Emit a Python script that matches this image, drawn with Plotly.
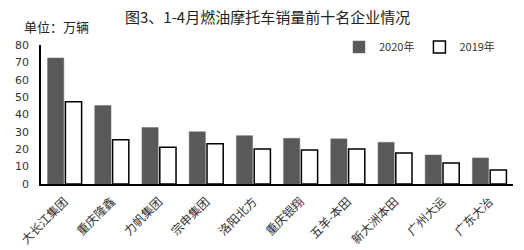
import plotly.graph_objects as go

categories = ["大长江集团", "重庆隆鑫", "力帆集团", "宗申集团", "洛阳北方",
              "重庆银翔", "五羊-本田", "新大洲本田", "广州大运", "广东大冶"]
sales_2020 = [72.5, 45.2, 32.5, 30.1, 27.8, 26.3, 26.0, 24.0, 16.7, 15.0]
sales_2019 = [47.3, 25.4, 21.2, 23.1, 20.2, 19.6, 20.2, 17.9, 12.1, 8.1]
y_ticks = [0, 10, 20, 30, 40, 50, 60, 70, 80]

FONT = "Noto Sans CJK SC, DejaVu Sans, sans-serif"

L, R, T, B = 41, 11, 45, 66
W, H = 524, 250
PW, PH = W - L - R, H - T - B

fig = go.Figure()
fig.add_trace(go.Bar(
    x=categories, y=sales_2020, name="2020年",
    marker=dict(color="#595959", line=dict(color="#6a6a6a", width=0.5)),
))
fig.add_trace(go.Bar(
    x=categories, y=sales_2019, name="2019年",
    marker=dict(color="#ffffff", line=dict(color="#000000", width=1.5)),
))

fig.update_layout(
    width=W, height=H,
    margin=dict(l=L, r=R, t=T, b=B, autoexpand=False),
    paper_bgcolor="white", plot_bgcolor="white",
    barmode="group", bargap=0.245, bargroupgap=0.09,
    font=dict(family=FONT, size=11, color="#404040"),
    title=dict(text="图3、1-4月燃油摩托车销量前十名企业情况",
               x=125/W, xanchor="left", y=1 - 18/H, yanchor="middle",
               font=dict(size=15, color="#222222", family=FONT)),
    showlegend=True,
    legend=dict(orientation="h", x=(500 - L)/PW, xanchor="right",
                y=(H - B - 47)/PH, yanchor="middle",
                font=dict(size=11, color="#333333"), itemwidth=30,
                traceorder="normal", bgcolor="rgba(0,0,0,0)"),
    annotations=[dict(text="单位：万辆", xref="paper", yref="paper",
                      x=(22 - L)/PW, y=(H - B - 27)/PH, xanchor="left", yanchor="middle",
                      showarrow=False, font=dict(size=13, color="#222222", family=FONT))],
)

fig.update_xaxes(showline=True, linecolor="#000000", linewidth=1.5, automargin=False,
                 tickangle=-45, tickfont=dict(size=12, color="#333333", family=FONT),
                 ticks="", showgrid=False, ticklabelstandoff=4)
fig.update_yaxes(range=[0, 80], tickvals=y_ticks, showline=True, linecolor="#000000",
                 linewidth=1.5, showgrid=False, zeroline=False, ticks="", automargin=False,
                 ticklabelstandoff=8,
                 tickfont=dict(size=11, color="#333333", family="DejaVu Sans"))

fig.write_html("out.html")
